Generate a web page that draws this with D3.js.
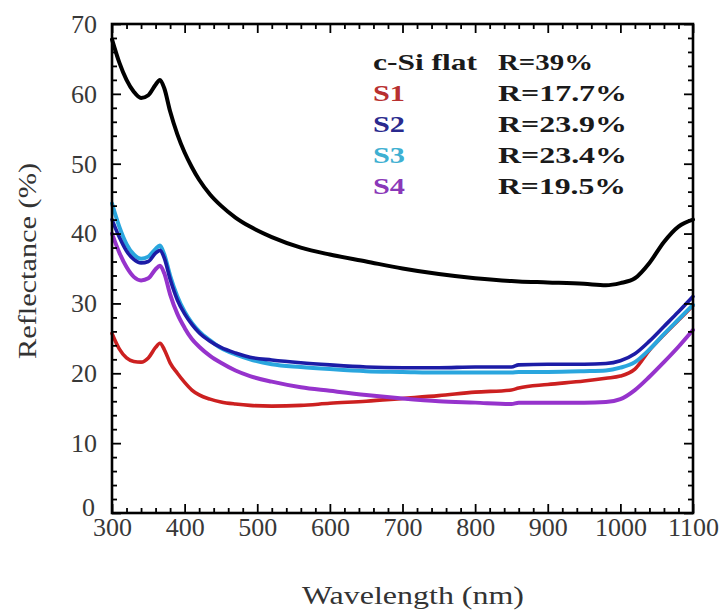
<!DOCTYPE html>
<html>
<head>
<meta charset="utf-8">
<script src="https://cdn.jsdelivr.net/npm/d3@7"></script>
</head>
<body style="margin:0">
<svg id="chart" width="726" height="612"></svg>
<script>
// ---------- data ----------
const wavelengths = [300,310,320,330,340,350,360,366,372,380,390,400,410,420,435,450,470,490,520,560,600,650,700,750,800,850,860,900,950,980,1000,1020,1040,1060,1080,1100];
const cSiFlat = [67.8,64.5,62.0,60.3,59.4,59.8,61.3,62.0,60.8,57.5,54.2,51.6,49.5,47.7,45.6,44.0,42.3,41.0,39.5,38.0,37.0,36.0,35.0,34.2,33.6,33.2,33.15,33.0,32.8,32.6,32.9,33.6,35.8,38.8,41.0,42.0];
const s1 = [25.7,23.5,22.2,21.7,21.6,22.2,23.7,24.3,23.4,21.5,20.0,18.7,17.6,16.9,16.3,15.9,15.6,15.4,15.3,15.4,15.7,16.0,16.4,16.8,17.3,17.6,17.9,18.4,18.9,19.3,19.6,20.6,23.3,25.5,27.6,29.7];
const s2 = [42.0,39.5,37.5,36.3,35.8,36.0,37.2,37.6,36.5,33.5,30.5,28.5,27.0,25.8,24.6,23.7,22.9,22.3,21.9,21.5,21.2,20.9,20.8,20.8,20.9,20.9,21.2,21.3,21.3,21.4,21.8,22.8,24.6,26.7,28.8,31.0];
const s3 = [44.3,41.0,38.5,37.0,36.4,36.7,37.8,38.3,37.0,34.0,31.0,28.8,27.2,26.0,24.7,23.6,22.7,22.0,21.3,20.9,20.6,20.3,20.2,20.1,20.1,20.1,20.2,20.2,20.3,20.4,20.8,21.6,23.4,25.6,27.7,29.8];
const s4 = [40.0,37.3,35.2,33.8,33.3,33.6,34.9,35.4,34.3,31.3,28.5,26.5,24.9,23.8,22.5,21.5,20.4,19.6,18.8,18.0,17.5,16.9,16.4,16.0,15.8,15.6,15.8,15.8,15.8,15.9,16.3,17.6,19.5,21.6,23.8,26.2];

const xTicks = [300,400,500,600,700,800,900,1000,1100];
const yTicks = [0,10,20,30,40,50,60,70];
const legendNames = ["c-Si flat","S1","S2","S3","S4"];
const legendValues = ["R=39%","R=17.7%","R=23.9%","R=23.4%","R=19.5%"];

// ---------- layout ----------
const FONT = "'Liberation Serif'";
const svg = d3.select("#chart");
const mLeft = 112, mTop = 24, mRight = 693, mBottom = 513;
const x = d3.scaleLinear().domain([300, 1100]).range([mLeft, mRight]);
const y = d3.scaleLinear().domain([0, 70]).range([mBottom, mTop]);

const series = [
  {name: "S1", values: s1, color: "#cc2020", width: 3.6},
  {name: "S4", values: s4, color: "#9633cc", width: 4},
  {name: "S3", values: s3, color: "#2aa6de", width: 4},
  {name: "S2", values: s2, color: "#1c1ca6", width: 3.6},
  {name: "c-Si flat", values: cSiFlat, color: "#000000", width: 4}
];

const line = d3.line()
  .x((d, i) => x(wavelengths[i]))
  .y(d => y(d))
  .curve(d3.curveMonotoneX);

svg.append("g").selectAll("path")
  .data(series)
  .join("path")
  .attr("d", d => line(d.values))
  .attr("fill", "none")
  .attr("stroke", d => d.color)
  .attr("stroke-width", d => d.width)
  .attr("stroke-linejoin", "round")
  .attr("stroke-linecap", "round");

// ---------- axes ----------
const xMinor = d3.range(300, 1101, 20).filter(v => v % 100 !== 0);
const yMinor = d3.range(0, 71, 2).filter(v => v % 10 !== 0);

function styleAxis(g) {
  g.select(".domain").remove();
  g.attr("font-family", null).attr("font-size", null);
  g.selectAll(".tick line").attr("stroke", "#000").attr("stroke-width", 1.8);
  g.selectAll("text")
    .attr("fill", "#383838")
    .style("font-family", FONT)
    .style("font-size", "26px");
}

svg.append("g").attr("transform", `translate(0,${mBottom})`)
  .call(d3.axisBottom(x).tickValues(xTicks).tickSize(-9).tickPadding(5).tickFormat(d3.format("d")))
  .call(styleAxis);
svg.append("g").attr("transform", `translate(0,${mBottom})`)
  .call(d3.axisBottom(x).tickValues(xMinor).tickSize(-5).tickFormat(""))
  .call(styleAxis);
svg.append("g").attr("transform", `translate(0,${mTop})`)
  .call(d3.axisTop(x).tickValues(xTicks).tickSize(-9).tickFormat(""))
  .call(styleAxis);
svg.append("g").attr("transform", `translate(0,${mTop})`)
  .call(d3.axisTop(x).tickValues(xMinor).tickSize(-5).tickFormat(""))
  .call(styleAxis);
const yAxisG = svg.append("g").attr("transform", `translate(${mLeft},0)`)
  .call(d3.axisLeft(y).tickValues(yTicks).tickSize(-9).tickPadding(15).tickFormat(d3.format("d")))
  .call(styleAxis);
// the "0" label sits slightly higher, clear of the "300" label
yAxisG.selectAll(".tick text").filter(d => d === 0).attr("dy", "0.1em").attr("x", -17);
svg.append("g").attr("transform", `translate(${mLeft},0)`)
  .call(d3.axisLeft(y).tickValues(yMinor).tickSize(-5).tickFormat(""))
  .call(styleAxis);
svg.append("g").attr("transform", `translate(${mRight},0)`)
  .call(d3.axisRight(y).tickValues(yTicks).tickSize(-9).tickFormat(""))
  .call(styleAxis);
svg.append("g").attr("transform", `translate(${mRight},0)`)
  .call(d3.axisRight(y).tickValues(yMinor).tickSize(-5).tickFormat(""))
  .call(styleAxis);

svg.append("rect")
  .attr("x", mLeft).attr("y", mTop)
  .attr("width", mRight - mLeft).attr("height", mBottom - mTop)
  .attr("fill", "none").attr("stroke", "#000").attr("stroke-width", 2.6);

// ---------- titles ----------
svg.append("text")
  .attr("x", 413).attr("y", 604)
  .attr("text-anchor", "middle")
  .style("font-family", FONT)
  .style("font-size", "25px")
  .attr("fill", "#333")
  .attr("textLength", 222).attr("lengthAdjust", "spacingAndGlyphs")
  .text("Wavelength (nm)");

svg.append("text")
  .attr("transform", "translate(36,261) rotate(-90)")
  .attr("text-anchor", "middle")
  .style("font-family", FONT)
  .style("font-size", "25px")
  .attr("fill", "#333")
  .attr("textLength", 196).attr("lengthAdjust", "spacingAndGlyphs")
  .text("Reflectance (%)");

// ---------- legend ----------
const legendColors = ["#1a1a1a", "#b83030", "#2a2a8e", "#3eb0d2", "#8a38b8"];
const legendWidths = [104, 32, 32, 32, 32];
const valueWidths = [95, 129, 129, 129, 128];
const lg = svg.append("g");
lg.selectAll("text.name")
  .data(legendNames)
  .join("text")
  .attr("class", "name")
  .attr("x", 373)
  .attr("y", (d, i) => 70 + i * 31)
  .attr("fill", (d, i) => legendColors[i])
  .style("font-family", FONT).style("font-size", "24px").style("font-weight", "bold")
  .attr("textLength", (d, i) => legendWidths[i])
  .attr("lengthAdjust", "spacingAndGlyphs")
  .text(d => d);
lg.selectAll("text.val")
  .data(legendValues)
  .join("text")
  .attr("class", "val")
  .attr("x", 498)
  .attr("y", (d, i) => 70 + i * 31)
  .attr("fill", "#1a1a1a")
  .style("font-family", FONT).style("font-size", "24px").style("font-weight", "bold")
  .attr("textLength", (d, i) => valueWidths[i])
  .attr("lengthAdjust", "spacingAndGlyphs")
  .text(d => d);
</script>
</body>
</html>
